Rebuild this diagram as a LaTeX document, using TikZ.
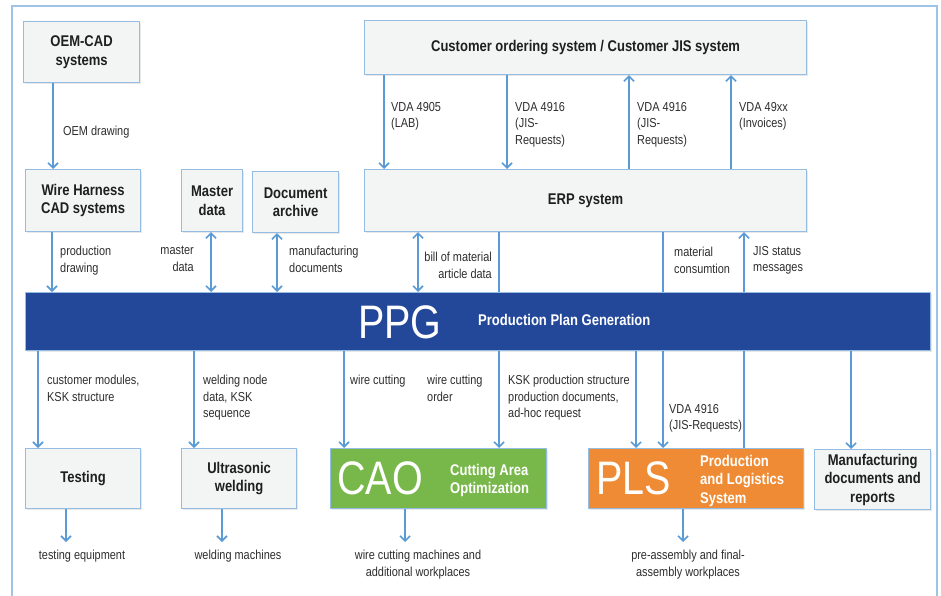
\documentclass[tikz,border=0pt]{standalone}
\usepackage{fontspec}
\setmainfont{Liberation Sans}[FakeStretch=0.84]
\usetikzlibrary{arrows.meta,shadows}

\definecolor{frameblue}{HTML}{9DC3E6}
\definecolor{boxline}{HTML}{95BDE4}
\definecolor{boxfill}{HTML}{F3F4F4}
\definecolor{flowblue}{HTML}{5B9BD5}
\definecolor{ppgblue}{HTML}{23489A}
\definecolor{caogreen}{HTML}{78B84A}
\definecolor{plsorange}{HTML}{EF8B34}
\definecolor{labelgrey}{HTML}{2E2E2E}

\begin{document}
\begin{tikzpicture}[x=1pt,y=-1pt,>={Straight Barb[length=5pt,width=10pt]},
    sys/.style={draw=boxline,fill=boxfill,line width=1.2pt,anchor=north west,align=center,inner sep=0pt,
      font=\bfseries\fontsize{15.5}{18.5}\selectfont,text=black!88,
      drop shadow={shadow xshift=1.5pt,shadow yshift=-1.5pt,opacity=0.18}},
    flow/.style={->,draw=flowblue,line width=1.6pt},
    lbl/.style={anchor=north west,align=left,inner sep=0pt,font=\fontsize{13}{16.5}\selectfont,text=labelgrey},
    big/.style={anchor=west,inner sep=0pt,text=white,font=\fontsize{47}{47}\selectfont},
    tag/.style={anchor=north west,align=left,inner sep=0pt,text=white,font=\bfseries\fontsize{15.5}{18.5}\selectfont}]
  \useasboundingbox (0,0) rectangle (941,596);
  \fill[white] (0,0) rectangle (941,596);
  \draw[frameblue,line width=1.3pt] (12,6) rectangle (937,615);

  \node[sys,minimum width=116,minimum height=61] (oem)      at (23,21)   {OEM-CAD\\systems};
  \node[sys,minimum width=115,minimum height=62] (whcad)    at (25,169)  {Wire Harness\\CAD systems};
  \node[sys,minimum width=61,minimum height=62]  (master)   at (181,169) {Master\\data};
  \node[sys,minimum width=86,minimum height=61]  (archive)  at (252,171) {Document\\archive};
  \node[sys,minimum width=442,minimum height=54] (customer) at (364,20)  {Customer ordering system / Customer JIS system};
  \node[sys,minimum width=442,minimum height=62] (erp)      at (364,169) {ERP system};
  \node[sys,fill=ppgblue,minimum width=905,minimum height=58] (ppg) at (25,292) {};
  \node[sys,minimum width=115,minimum height=60] (testing)  at (25,448)  {Testing};
  \node[sys,minimum width=115,minimum height=60] (ultra)    at (181,448) {Ultrasonic\\welding};
  \node[sys,fill=caogreen,minimum width=216,minimum height=60]  (cao) at (330,448) {};
  \node[sys,fill=plsorange,minimum width=215,minimum height=60] (pls) at (588,448) {};
  \node[sys,minimum width=116,minimum height=60] (docs)     at (814,449) {Manufacturing\\documents and\\reports};

  \node[big] (ppgtxt)  at (358,322)   {PPG};
  \node[tag,anchor=west] (ppgname) at (478,320) {Production Plan Generation};
  \node[big] (caotxt)  at (337,478.5) {CAO};
  \node[tag] (caoname) at (450,464)   {Cutting Area\\Optimization};
  \node[big] (plstxt)  at (596,478.5) {PLS};
  \node[tag] (plsname) at (700,455)   {Production\\and Logistics\\System};

  \node[lbl] (oemdraw)  at (63,126)  {OEM drawing};
  \node[lbl] (proddraw) at (60,246)  {production\\drawing};
  \node[lbl,anchor=north east,align=right] (masterlbl) at (194,246) {master\\data};
  \node[lbl] (mfgdocs)  at (289,246) {manufacturing\\documents};
  \node[lbl] (vdalab)   at (391,102) {VDA 4905\\(LAB)};
  \node[lbl] (vdajisa)  at (515,102) {VDA 4916\\(JIS-\\Requests)};
  \node[lbl] (vdajisb)  at (637,102) {VDA 4916\\(JIS-\\Requests)};
  \node[lbl] (vdainv)   at (739,102) {VDA 49xx\\(Invoices)};
  \node[lbl,anchor=north east,align=right] (bom) at (492,252) {bill of material\\article data};
  \node[lbl] (matcons)  at (674,247) {material\\consumtion};
  \node[lbl] (jisstat)  at (753,246) {JIS status\\messages};
  \node[lbl] (custmod)  at (47,375)  {customer modules,\\KSK structure};
  \node[lbl] (weldnode) at (203,375) {welding node\\data, KSK\\sequence};
  \node[lbl] (wirecut)  at (350,375) {wire cutting};
  \node[lbl] (wireord)  at (427,375) {wire cutting\\order};
  \node[lbl] (kskprod)  at (508,375) {KSK production structure\\production documents,\\ad-hoc request};
  \node[lbl] (vdajisc)  at (669,404) {VDA 4916\\(JIS-Requests)};

  \node[lbl,anchor=north,align=center] (tequip) at (82,550)  {testing equipment};
  \node[lbl,anchor=north,align=center] (wmach)  at (238,550) {welding machines};
  \node[lbl,anchor=north,align=center] (cmach)  at (418,550) {wire cutting machines and\\additional workplaces};
  \node[lbl,anchor=north,align=center] (assy)   at (688,550) {pre-assembly and final-\\assembly workplaces};

  \draw[flow] (oem.south -| 53,0) -- (whcad.north -| 53,0);
  \draw[flow] (whcad.south -| 52,0) -- (ppg.north -| 52,0);
  \draw[flow,<->] (master.south -| 211,0) -- (ppg.north -| 211,0);
  \draw[flow,<->] (archive.south -| 277,0) -- (ppg.north -| 277,0);
  \draw[flow] (customer.south -| 384,0) -- (erp.north -| 384,0);
  \draw[flow] (customer.south -| 507,0) -- (erp.north -| 507,0);
  \draw[flow] (erp.north -| 629,0) -- (customer.south -| 629,0);
  \draw[flow] (erp.north -| 731,0) -- (customer.south -| 731,0);
  \draw[flow,<->] (erp.south -| 418,0) -- (ppg.north -| 418,0);
  \draw[flow,-] (erp.south -| 499,0) -- (ppg.north -| 499,0);
  \draw[flow,-] (erp.south -| 663,0) -- (ppg.north -| 663,0);
  \draw[flow] (ppg.north -| 744,0) -- (erp.south -| 744,0);

  \draw[flow] (ppg.south -| 38,0) -- (testing.north -| 38,0);
  \draw[flow] (ppg.south -| 194,0) -- (ultra.north -| 194,0);
  \draw[flow] (ppg.south -| 344,0) -- (cao.north -| 344,0);
  \draw[flow] (ppg.south -| 499,0) -- (cao.north -| 499,0);
  \draw[flow] (ppg.south -| 636,0) -- (pls.north -| 636,0);
  \draw[flow] (ppg.south -| 663,0) -- (pls.north -| 663,0);
  \draw[flow,-] (pls.north -| 744,0) -- (ppg.south -| 744,0);
  \draw[flow] (ppg.south -| 851,0) -- (docs.north -| 851,0);

  \draw[flow,shorten >=8pt] (testing.south -| 66,0) -- (tequip.north -| 66,0);
  \draw[flow,shorten >=8pt] (ultra.south -| 222,0) -- (wmach.north -| 222,0);
  \draw[flow,shorten >=8pt] (cao.south -| 405,0) -- (cmach.north -| 405,0);
  \draw[flow,shorten >=8pt] (pls.south -| 683,0) -- (assy.north -| 683,0);
\end{tikzpicture}
\end{document}
